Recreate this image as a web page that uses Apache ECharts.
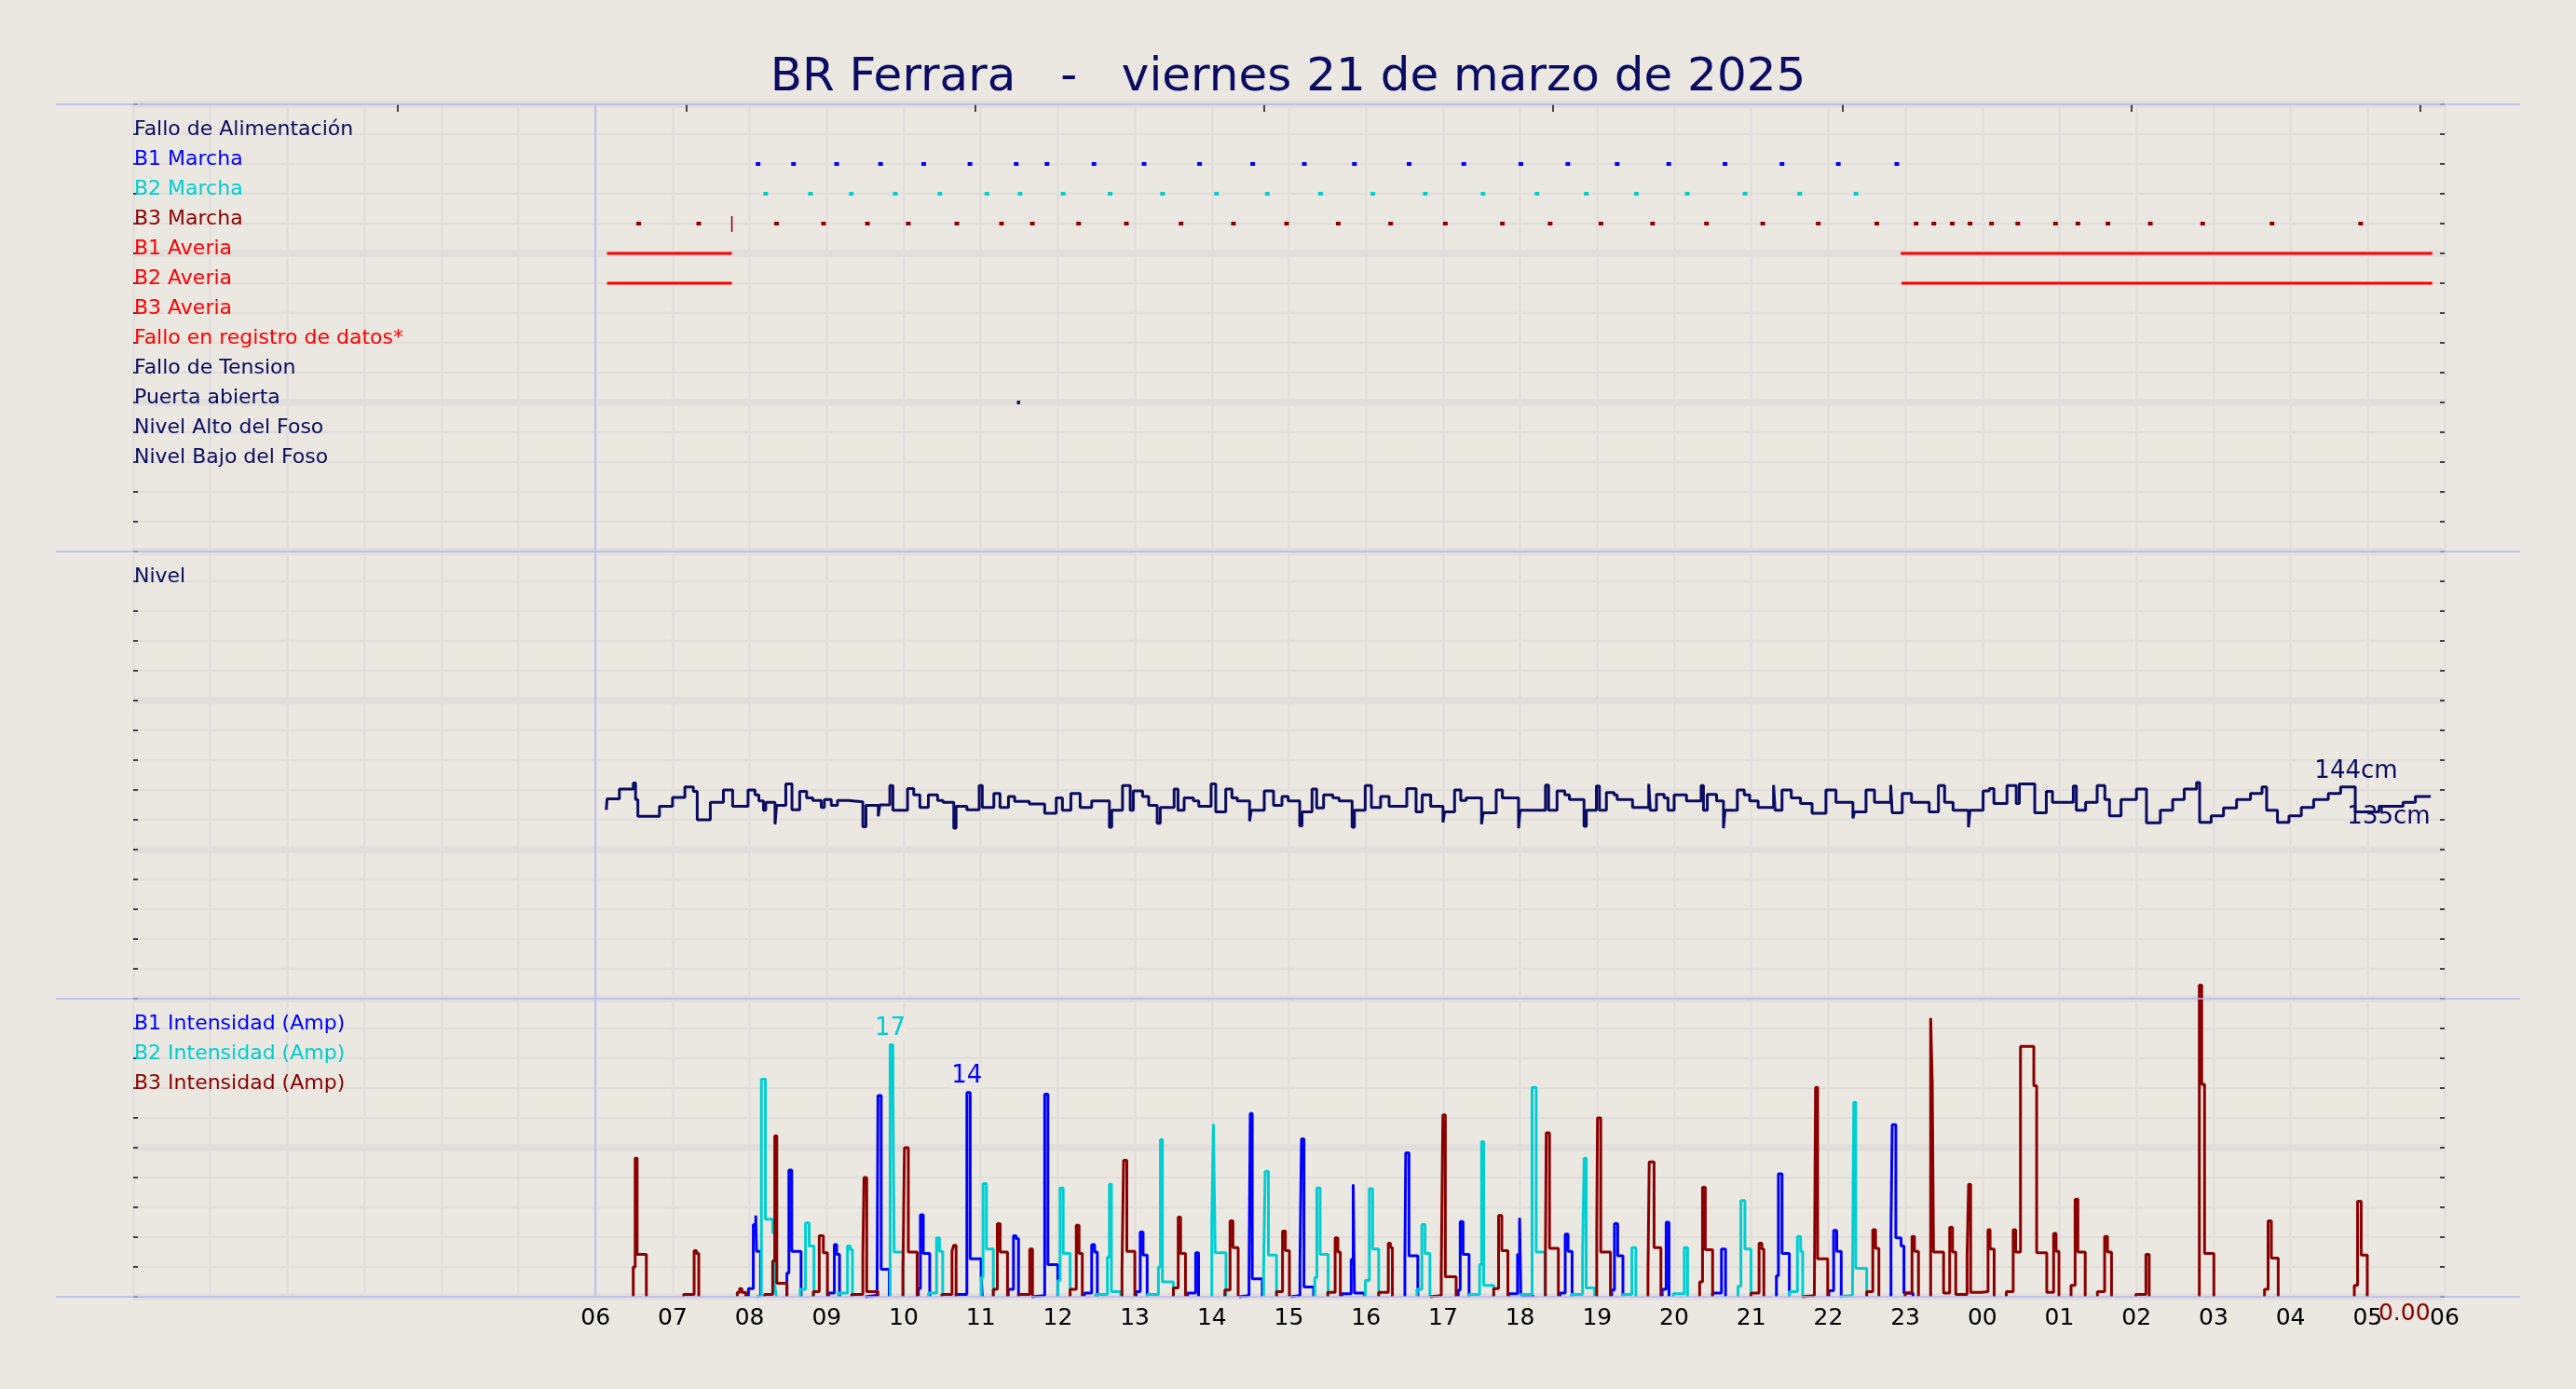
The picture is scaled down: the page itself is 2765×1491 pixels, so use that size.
<!DOCTYPE html>
<html>
<head>
<meta charset="utf-8">
<script src="https://cdn.jsdelivr.net/npm/echarts@6/dist/echarts.min.js"></script>
<style>
html,body{margin:0;padding:0;background:#ebe7e1;}
#c{width:2765px;height:1491px;}
</style>
</head>
<body>
<div id="c"></div>
<script>
// ---------------- DATA ----------------
const titleText = 'BR Ferrara   -   viernes 21 de marzo de 2025';
const dayStartHour = 6;
const hourLabelsFrom = 6;
const topTickHours = [3.43, 7.18, 10.93, 14.68, 18.43, 22.18, 25.93, 29.68];

const statusLabels = ['Fallo de Alimentación','B1 Marcha','B2 Marcha','B3 Marcha','B1 Averia','B2 Averia','B3 Averia','Fallo en registro de datos*','Fallo de Tension','Puerta abierta','Nivel Alto del Foso','Nivel Bajo del Foso'];
const statusRowValues = [14,13,12,11,10,9,8,7,6,5,4,3];

const b1MarchaTimes = [8.08,8.54,9.10,9.67,10.23,10.83,11.43,11.83,12.44,13.09,13.81,14.50,15.17,15.82,16.53,17.24,17.98,18.59,19.23,19.90,20.63,21.37,22.10,22.86];
const b2MarchaTimes = [8.18,8.76,9.29,9.86,10.44,11.05,11.48,12.04,12.65,13.33,14.03,14.69,15.38,16.06,16.74,17.49,18.19,18.83,19.48,20.14,20.89,21.60,22.33];
const b3MarchaTimes = [6.53,7.31,8.32,8.93,9.50,10.03,10.66,11.24,11.64,12.24,12.86,13.57,14.25,14.94,15.61,16.29,17.00,17.74,18.36,19.02,19.69,20.39,21.12,21.84,22.60,23.11,23.34,23.58,23.81,24.09,24.43,24.92,25.21,25.60,26.15,26.83,27.73,28.88];
const b3MarchaMark = [[7.77,10.72],[7.77,11.25]];
const b1AveriaSpans = [[6.15,7.77],[22.94,29.84]];
const b2AveriaSpans = [[6.15,7.77],[22.95,29.84]];
const puertaAbiertaTimes = [11.47];

const levelSteps = [
[6.14,138.5],[6.15,140.7],[6.31,142.7],[6.49,143.9],[6.52,140.6],[6.55,137.2],[6.83,139.2],[7.00,141.0],[7.16,143.1],[7.27,142.2],[7.32,136.5],[7.49,140.0],[7.66,142.5],[7.78,139.2],[7.98,142.5],[8.07,141.5],[8.12,140.3],[8.18,138.4],[8.21,140.0],[8.33,135.6],[8.35,139.4],[8.47,143.7],[8.55,138.5],[8.65,142.2],[8.74,140.9],[8.82,140.4],[8.93,139.0],[8.97,140.6],[9.06,139.4],[9.14,140.4],[9.28,140.1],[9.47,135.1],[9.51,139.4],[9.67,137.2],[9.69,139.5],[9.82,143.4],[9.86,138.4],[10.05,142.8],[10.13,141.5],[10.21,139.0],[10.32,141.5],[10.44,140.4],[10.51,140.0],[10.65,134.8],[10.68,139.2],[10.82,138.5],[10.98,143.4],[11.02,139.0],[11.17,141.8],[11.25,139.0],[11.36,141.2],[11.44,140.2],[11.63,139.7],[11.83,137.8],[11.98,140.9],[12.06,138.4],[12.17,141.8],[12.29,139.0],[12.44,140.3],[12.67,135.0],[12.70,138.4],[12.84,143.4],[12.94,138.4],[12.98,142.3],[13.10,141.2],[13.18,139.4],[13.29,135.8],[13.33,139.0],[13.51,142.7],[13.56,138.4],[13.64,140.9],[13.76,140.3],[13.83,139.2],[13.99,143.7],[14.05,138.1],[14.18,142.7],[14.26,140.9],[14.33,140.3],[14.49,136.2],[14.51,138.4],[14.68,142.3],[14.80,139.4],[14.91,141.2],[14.99,140.3],[15.14,135.3],[15.17,138.1],[15.30,142.7],[15.36,138.9],[15.45,141.5],[15.57,140.9],[15.65,140.3],[15.82,135.0],[15.85,138.4],[15.99,143.4],[16.07,139.0],[16.19,141.2],[16.30,139.2],[16.53,142.8],[16.65,138.1],[16.73,141.5],[16.84,139.2],[17.00,136.0],[17.02,138.1],[17.15,142.5],[17.23,140.4],[17.30,140.9],[17.50,135.6],[17.52,137.9],[17.69,142.5],[17.77,140.9],
[17.98,134.8],[18.00,138.4],[18.33,143.5],[18.37,138.4],[18.48,142.3],[18.58,141.5],[18.64,140.6],[18.83,135.2],[18.86,138.4],[18.99,143.3],[19.03,138.4],[19.12,142.0],[19.22,141.5],[19.26,140.6],[19.46,139.0],[19.67,143.7],[19.69,138.4],[19.77,141.6],[19.87,140.9],[19.92,138.4],[20.00,141.5],[20.16,140.3],[20.35,143.4],[20.38,138.4],[20.43,141.6],[20.55,140.3],[20.64,134.8],[20.66,138.4],[20.82,142.5],[20.91,141.5],[20.98,140.3],[21.09,139.0],[21.29,143.5],[21.31,138.4],[21.40,142.5],[21.52,140.9],[21.64,139.8],[21.79,137.8],[21.97,142.5],[22.10,140.0],[22.32,136.8],[22.34,138.1],[22.49,142.5],[22.60,140.0],[22.81,143.5],[22.83,137.9],[22.96,141.8],[23.08,140.0],[23.31,138.1],[23.43,143.4],[23.51,140.0],[23.62,138.4],[23.82,135.0],[23.84,138.4],[24.01,142.3],[24.09,142.8],[24.15,139.8],[24.32,143.4],[24.44,139.8],[24.48,143.7],[24.68,137.9],[24.83,142.2],[24.91,140.0],[25.18,143.3],[25.22,138.4],[25.34,140.0],[25.49,143.4],[25.59,140.6],[25.65,137.3],[25.80,140.6],[26.00,142.7],[26.13,135.9],[26.31,138.4],[26.47,140.6],[26.62,142.7],[26.78,144.0],[26.82,136.0],[26.97,137.3],[27.13,138.9],[27.30,140.6],[27.48,141.8],[27.63,143.1],[27.69,138.4],[27.83,136.0],[27.98,137.3],[28.14,139.0],[28.30,140.6],[28.49,141.8],[28.65,143.1],[28.84,138.1],[29.15,139.2],[29.46,140.0],[29.62,141.2],[29.82,141.2]
];

const b1AmpEvents = [
[[7.985,0.55],[8.048,4.85],[8.08,5.45],[8.09,3.05],[8.143,0]],
[[8.484,1.6],[8.51,8.5],[8.547,3.05],[8.668,0]],
[[9.025,0.25],[9.1,3.5],[9.13,2.85],[9.167,0]],
[[9.5,0.1],[9.655,1.1],[9.666,13.5],[9.708,1.85],[9.813,0]],
[[10.19,0.55],[10.217,5.5],[10.254,2.9],[10.338,0]],
[[10.68,0.15],[10.82,13.7],[10.863,2.55],[11.005,1.4],[11.02,0]],
[[11.357,0.5],[11.425,4.1],[11.46,3.9],[11.49,0]],
[[11.66,0.08],[11.83,13.6],[11.872,2.15],[12.0,0]],
[[12.345,0.25],[12.44,3.5],[12.478,3.0],[12.513,0]],
[[13.017,0.35],[13.07,4.35],[13.107,2.8],[13.16,0]],
[[13.684,0.25],[13.79,2.95],[13.827,0]],
[[14.356,0.08],[14.482,1.5],[14.498,12.3],[14.524,1.2],[14.655,0]],
[[15.022,0.08],[15.143,2.15],[15.163,10.6],[15.195,0.65],[15.321,0]],
[[15.688,0.2],[15.808,2.5],[15.834,7.55],[15.85,0.25],[15.981,0]],
[[16.505,2.55],[16.516,9.65],[16.558,2.75],[16.673,0]],
[[17.197,0.45],[17.223,5.05],[17.26,2.85],[17.338,0]],
[[17.852,0.2],[17.967,2.85],[17.994,5.3],[18.01,0.08],[18.167,0]],
[[18.518,0.25],[18.586,4.2],[18.623,3.05],[18.675,0]],
[[19.189,0.45],[19.225,4.9],[19.267,2.75],[19.335,0]],
[[19.844,0.5],[19.896,5.0],[19.933,0]],
[[20.499,0.25],[20.614,3.2],[20.667,0]],
[[21.327,1.4],[21.353,8.25],[21.4,2.9],[21.495,0]],
[[22.008,0.4],[22.07,4.45],[22.11,3.05],[22.168,0]],
[[22.814,4.4],[22.83,11.55],[22.877,3.95],[22.945,3.4],[22.982,0.25],[23.1,0]]
];

const b2AmpEvents = [
[[8.09,0.08],[8.153,14.6],[8.205,5.2],[8.3,4.3],[8.327,0.8],[8.345,0]],
[[8.657,0.5],[8.726,4.95],[8.773,3.4],[8.836,0]],
[[9.15,0.25],[9.27,3.4],[9.306,3.15],[9.335,0]],
[[9.824,16.9],[9.86,13.8],[9.876,3.0],[9.992,0]],
[[10.322,0.25],[10.427,3.95],[10.464,3.05],[10.506,0]],
[[11.005,1.3],[11.03,7.6],[11.073,3.2],[11.163,0]],
[[12.003,1.1],[12.03,7.3],[12.07,2.9],[12.16,0]],
[[12.49,0.15],[12.644,2.65],[12.67,7.55],[12.696,0.35],[12.817,0]],
[[13.16,0.15],[13.306,2.0],[13.332,10.55],[13.358,1.0],[13.5,0]],
[[13.999,5.05],[14.02,11.6],[14.042,2.95],[14.183,0]],
[[14.671,1.75],[14.692,8.4],[14.734,2.8],[14.839,0]],
[[15.336,1.3],[15.363,7.3],[15.405,2.85],[15.509,0]],
[[15.992,1.1],[16.044,7.25],[16.086,3.2],[16.165,0]],
[[16.662,0.5],[16.725,4.85],[16.767,2.9],[16.83,0]],
[[17.339,0.15],[17.475,2.15],[17.501,10.4],[17.527,0.77],[17.658,0]],
[[18.009,0.15],[18.156,14.05],[18.209,3.0],[18.324,0]],
[[18.665,0.15],[18.811,2.65],[18.832,9.3],[18.858,0.6],[18.968,0]],
[[19.335,0.15],[19.451,3.3],[19.503,0]],
[[19.99,0.2],[20.132,3.3],[20.174,0]],
[[20.829,0.7],[20.866,6.45],[20.918,3.2],[20.997,0]],
[[21.495,0.35],[21.6,4.05],[21.641,3.05],[21.668,0]],
[[22.15,0.1],[22.315,1.0],[22.331,13.05],[22.357,1.9],[22.499,0]]
];

const b3AmpEvents = [
[[6.49,2.0],[6.515,9.3],[6.54,2.85],[6.66,0]],
[[7.145,0.15],[7.28,3.1],[7.31,2.9],[7.34,0]],
[[7.84,0.3],[7.87,0.55],[7.9,0.3],[7.95,0]],
[[8.195,0.15],[8.30,2.4],[8.327,10.8],[8.353,0.9],[8.484,0]],
[[8.826,0.35],[8.904,4.1],[8.957,2.95],[9.01,0]],
[[9.325,0.15],[9.47,2.85],[9.485,8.0],[9.52,0.35],[9.666,0]],
[[9.99,1.8],[10.01,10.0],[10.06,3.0],[10.175,0]],
[[10.496,0.15],[10.627,3.05],[10.648,3.45],[10.68,0]],
[[11.163,0.5],[11.215,4.9],[11.252,3.0],[11.347,0]],
[[11.494,0.15],[11.636,3.2],[11.672,0]],
[[12.16,0.5],[12.24,4.8],[12.276,2.9],[12.318,0]],
[[12.833,1.8],[12.854,9.15],[12.896,3.05],[13.0,0]],
[[13.5,0.6],[13.563,5.35],[13.594,2.9],[13.657,0]],
[[14.168,0.45],[14.236,5.1],[14.273,3.3],[14.341,0]],
[[14.839,0.35],[14.917,4.4],[14.954,3.1],[15.006,0]],
[[15.504,0.3],[15.6,3.95],[15.635,3.0],[15.667,0]],
[[16.165,0.3],[16.29,3.6],[16.317,3.3],[16.343,0]],
[[16.83,0.08],[16.977,1.6],[16.998,12.2],[17.03,1.35],[17.17,0]],
[[17.658,0.55],[17.721,5.45],[17.763,3.1],[17.842,0]],
[[18.329,2.65],[18.34,11.0],[18.382,3.25],[18.497,0]],
[[18.995,4.3],[19.005,12.0],[19.047,3.0],[19.173,0]],
[[19.66,1.5],[19.676,9.05],[19.739,3.3],[19.828,0]],
[[20.331,1.0],[20.368,7.35],[20.404,3.15],[20.499,0]],
[[20.997,0.25],[21.102,3.6],[21.138,3.2],[21.164,0]],
[[21.662,0.08],[21.82,0.65],[21.835,14.05],[21.862,2.55],[21.993,0]],
[[22.499,0.35],[22.578,4.5],[22.614,3.25],[22.657,0]],
[[22.998,0.25],[23.087,4.05],[23.119,3.05],[23.171,0]],
[[23.329,18.7],[23.35,14.3],[23.366,3.0],[23.497,0.25],[23.576,4.65],[23.613,3.0],[23.655,0.15],[23.802,2.8],[23.822,7.55],[23.848,0.3],[23.995,0.35],[24.074,4.5],[24.1,3.2],[24.153,0]],
[[24.311,0.35],[24.4,4.5],[24.432,3.0],[24.495,16.8],[24.668,14.15],[24.705,2.95],[24.836,0.3],[24.925,4.25],[24.957,3.05],[24.994,0]],
[[25.151,0.77],[25.204,6.55],[25.24,3.0],[25.335,0]],
[[25.493,0.35],[25.587,4.05],[25.624,3.0],[25.676,0]],
[[25.992,0.15],[26.123,2.85],[26.165,0]],
[[26.816,20.9],[26.847,14.25],[26.884,2.9],[27.005,0]],
[[27.662,0.5],[27.709,5.1],[27.751,2.6],[27.84,0]],
[[28.828,0.77],[28.87,6.4],[28.917,2.8],[28.996,0]]
];
const b3LastAmp = 0;

// ---------------- STYLE ----------------
const FONT = 'DejaVu Sans';
const NAVY = '#0b0b62', BLUE = '#0000ff', CYAN = '#00ced1', DRED = '#8b0000', RED = '#ff0000';
const statusColors = [NAVY, BLUE, CYAN, DRED, RED, RED, RED, RED, NAVY, NAVY, NAVY, NAVY];
const BG = '#ebe7e1', GRIDC = '#e2dedb', LAV = '#b6b6f2';
const L = 143, R = 141;
const G = [{top:112,h:480},{top:592,h:480},{top:1072,h:320}];
const LBL = {fontSize:22, fontFamily:FONT, lineHeight:10};

// ---------------- HELPERS ----------------
function dotData(times, row, dur){ const d=[]; times.forEach(t=>{d.push([t,row],[t+dur,row],[t+dur,null]);}); return d; }
function spanData(spans, row){ const d=[]; spans.forEach(s=>{d.push([s[0],row],[s[1],row],[s[1],null]);}); return d; }
function ampData(events){ const d=[]; events.forEach(ev=>{ d.push([ev[0][0],0]); ev.forEach(p=>d.push(p)); d.push([ev[ev.length-1][0],null]); }); return d; }

const lastT = levelSteps[levelSteps.length-1][0];
const levelVals = levelSteps.map(p=>p[1]);
const levelMax = Math.max(...levelVals), levelMin = Math.min(...levelVals);

const statusRich = {};
statusLabels.forEach((s,i)=>{ statusRich['s'+i] = Object.assign({color: statusColors[i]}, LBL); });
const ampRich = {
  a:Object.assign({color:BLUE},LBL),
  b:Object.assign({color:CYAN},LBL),
  c:Object.assign({color:DRED},LBL)
};

function structY(gi, max, interval, formatter, rich){
  return {type:'value', gridIndex:gi, min:0, max:max, interval:interval, position:'left',
    axisLine:{show:false, onZero:false},
    axisTick:{show:true, inside:true, length:5, lineStyle:{color:'#111', width:1.5}},
    axisLabel:{show:true, inside:true, margin:1, verticalAlign:'bottom', formatter:formatter, rich:rich},
    splitLine:{show:true, lineStyle:{color:GRIDC, width:2.3}}};
}
function rightY(gi, max, interval){
  return {type:'value', gridIndex:gi, min:0, max:max, interval:interval, position:'right',
    axisLine:{show:false, onZero:false}, axisTick:{show:true, inside:true, length:5, lineStyle:{color:'#111', width:1.5}},
    axisLabel:{show:false}, splitLine:{show:false}};
}
function majorY(gi, max, interval){
  return {type:'value', gridIndex:gi, min:0, max:max, interval:interval, position:'left',
    axisLine:{show:false, onZero:false}, axisTick:{show:false}, axisLabel:{show:false},
    splitLine:{show:true, lineStyle:{color:GRIDC, width:7.5}}};
}
function hourX(gi, showLabels){
  return {type:'value', gridIndex:gi, min:0, max:30, interval:1, position:'bottom',
    axisLine:{show:false, onZero:false}, axisTick:{show:false},
    axisLabel:{show:showLabels, margin:11, color:'#000', fontSize:25, fontFamily:FONT,
      formatter:v=> v<hourLabelsFrom ? '' : String(v%24).padStart(2,'0')},
    splitLine:{show:true, lineStyle:{color:GRIDC, width:2.5}}};
}
const dayLine = {silent:true, symbol:'none', label:{show:false}, lineStyle:{color:LAV, width:1.5, type:'solid'}, data:[{xAxis:dayStartHour}]};

function line(name, data, xi, yi, color, width, extra){
  return Object.assign({type:'line', name:name, data:data, xAxisIndex:xi, yAxisIndex:yi, showSymbol:false, symbol:'none',
    connectNulls:false, clip:false, animation:false, lineStyle:{color:color, width:width, cap:'butt'}, itemStyle:{color:color}, z:3}, extra||{});
}
function maxPoint(color){
  return {type:'max', valueDim:'y', symbol:'circle', symbolSize:1, itemStyle:{color:'rgba(0,0,0,0)'},
    label:{show:true, position:'top', distance:4, color:color, fontSize:26, fontFamily:FONT,
      backgroundColor:BG, padding:[0,2], formatter:p=>String(Math.round(p.value))}};
}

const option = {
  backgroundColor: BG,
  animation: false,
  title: {text:titleText, left:'center', top:54, textStyle:{fontSize:50, fontWeight:'normal', color:NAVY, fontFamily:FONT}},
  grid: G.map(g=>({left:L, right:R, top:g.top, height:g.h, containLabel:false})),
  xAxis: [
    hourX(0,false),
    {type:'value', gridIndex:0, min:0, max:30, position:'top', axisLine:{show:false, onZero:false},
      axisTick:{show:true, inside:true, length:8, customValues: topTickHours, lineStyle:{color:'#111', width:1.5}},
      axisLabel:{show:false}, splitLine:{show:false}},
    hourX(1,false),
    hourX(2,true)
  ],
  yAxis: [
    structY(0, 15, 1, v=>{ const i = statusRowValues.indexOf(v); return i>=0 ? '{s'+i+'|'+statusLabels[i]+'}' : ''; }, statusRich),
    rightY(0, 15, 1),
    majorY(0, 15, 5),
    structY(1, 15, 1, v=> v===14 ? '{n|Nivel}' : '', {n:Object.assign({color:NAVY},LBL)}),
    rightY(1, 15, 1),
    majorY(1, 15, 5),
    {type:'value', gridIndex:1, min:100.5, max:190.5, show:false, splitLine:{show:false}},
    structY(2, 20, 2, v=> v===18 ? '{a|B1 Intensidad (Amp)}' : v===16 ? '{b|B2 Intensidad (Amp)}' : v===14 ? '{c|B3 Intensidad (Amp)}' : '', ampRich),
    rightY(2, 20, 2),
    majorY(2, 20, 10)
  ],
  graphic: [112, 592, 1072, 1392].map(y=>({type:'line', z:100, silent:true,
    shape:{x1:60, y1:y, x2:2705, y2:y}, style:{stroke:LAV, lineWidth:1.5}})),
  series: [
    line('B1 Marcha', dotData(b1MarchaTimes, 13, 0.06), 0, 0, BLUE, 4, {markLine: dayLine}),
    line('B2 Marcha', dotData(b2MarchaTimes, 12, 0.06), 0, 0, CYAN, 4),
    line('B3 Marcha', dotData(b3MarchaTimes, 11, 0.06), 0, 0, DRED, 4),
    line('B3 Marcha cambio', b3MarchaMark, 0, 0, DRED, 1.5),
    line('B1 Averia', spanData(b1AveriaSpans, 10), 0, 0, RED, 3),
    line('B2 Averia', spanData(b2AveriaSpans, 9), 0, 0, RED, 3),
    line('Puerta abierta', dotData(puertaAbiertaTimes, 5, 0.04), 0, 0, NAVY, 4),
    line('Nivel', levelSteps, 2, 6, NAVY, 3, {step:'end', markLine: dayLine,
      markPoint:{symbol:'circle', symbolSize:1, itemStyle:{color:'rgba(0,0,0,0)'},
        label:{show:true, position:'left', distance:0, color:NAVY, fontSize:26, fontFamily:FONT, formatter:p=>Math.round(p.value)+'cm'},
        data:[
          {coord:[lastT, levelMax], value:levelMax, label:{offset:[-35,-12]}},
          {coord:[lastT, levelMin], value:levelMin, label:{offset:[0,-12]}}
        ]}}),
    line('B1 Intensidad (Amp)', ampData(b1AmpEvents), 3, 7, BLUE, 3, {step:'end', markLine: dayLine,
      markPoint:{data:[maxPoint(BLUE)]}}),
    line('B2 Intensidad (Amp)', ampData(b2AmpEvents), 3, 7, CYAN, 3, {step:'end',
      markPoint:{data:[maxPoint(CYAN)]}}),
    line('B3 Intensidad (Amp)', ampData(b3AmpEvents), 3, 7, DRED, 3, {step:'end',
      markPoint:{data:[maxPoint(DRED),
        {coord:[lastT, b3LastAmp], value:b3LastAmp, symbol:'circle', symbolSize:1, itemStyle:{color:'rgba(0,0,0,0)'},
          label:{show:true, position:'left', distance:0, offset:[0,18], color:DRED, fontSize:25, fontFamily:FONT,
            formatter:p=>Number(p.value).toFixed(2)}}]}})
  ]
};

const chart = echarts.init(document.getElementById('c'), null, {renderer:'canvas'});
chart.setOption(option);
</script>
</body>
</html>
